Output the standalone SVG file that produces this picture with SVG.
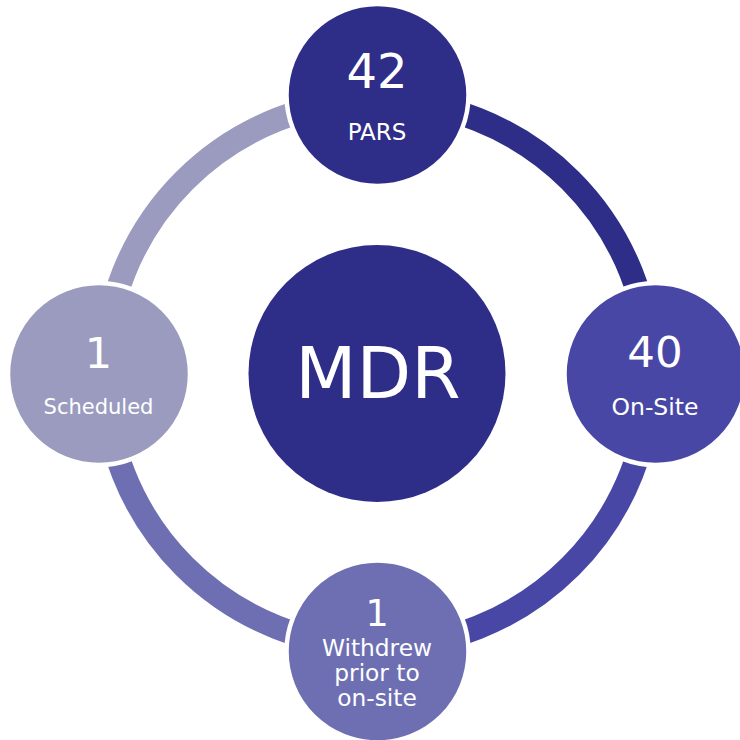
<svg xmlns="http://www.w3.org/2000/svg" width="740" height="740" viewBox="0 0 740 740">
<style>
.arc{fill:none;stroke-width:24}
.node{stroke:#ffffff;stroke-width:4.5}
.t{fill:#ffffff;font-family:"DejaVu Sans","Verdana",sans-serif;text-anchor:middle}
</style>
<rect width="740" height="740" fill="#ffffff"/>
<g id="connectors">
<path class="arc" stroke="#2e2d88" d="M377.5,100.5 A273,273 0 0 1 650.5,373.5"/>
<path class="arc" stroke="#4847a6" d="M650.5,373.5 A273,273 0 0 1 377.5,646.5"/>
<path class="arc" stroke="#6e6fb3" d="M377.5,646.5 A273,273 0 0 1 104.5,373.5"/>
<path class="arc" stroke="#9b9bc0" d="M104.5,373.5 A273,273 0 0 1 377.5,100.5"/>
</g>
<g id="center">
<circle cx="377" cy="373.5" r="128.5" fill="#2e2d88"/>
<text class="t" x="378" y="398" font-size="71">MDR</text>
</g>
<g id="pars">
<circle class="node" cx="377.5" cy="95" r="91" fill="#2e2d88"/>
<text class="t" x="377" y="88" font-size="48">42</text>
<text class="t" x="377" y="140" font-size="23">PARS</text>
</g>
<g id="onsite">
<circle class="node" cx="655.5" cy="374" r="91" fill="#4847a6"/>
<text class="t" x="655" y="366.5" font-size="43.5">40</text>
<text class="t" x="655" y="415" font-size="23.5">On-Site</text>
</g>
<g id="withdrew">
<circle class="node" cx="377.5" cy="651.5" r="91" fill="#6e6fb3"/>
<text class="t" x="377" y="626" font-size="36.5">1</text>
<text class="t" x="377" y="656" font-size="23.3">Withdrew</text>
<text class="t" x="377" y="681" font-size="23.3">prior to</text>
<text class="t" x="377" y="706" font-size="23.3">on-site</text>
</g>
<g id="scheduled">
<circle class="node" cx="99" cy="374" r="91" fill="#9b9bc0"/>
<text class="t" x="98.5" y="367.5" font-size="43">1</text>
<text class="t" x="98.5" y="414" font-size="21">Scheduled</text>
</g>
</svg>
